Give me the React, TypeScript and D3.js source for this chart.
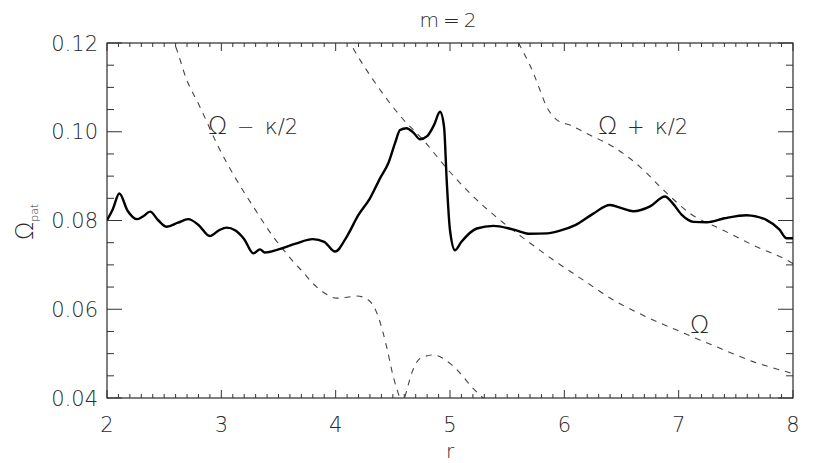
import React from "react";
import * as d3 from "d3";

const title = "m=2";
const xLabel = "r";
const xTicks = [2, 3, 4, 5, 6, 7, 8];
const yTicks = [0.04, 0.06, 0.08, 0.1, 0.12];
const yTickLabels = ["0.04", "0.06", "0.08", "0.10", "0.12"];

const patR = [2.0, 2.05, 2.108, 2.18, 2.265, 2.32, 2.376, 2.45, 2.522, 2.62, 2.711, 2.8, 2.9, 2.98, 3.047, 3.12, 3.2, 3.28, 3.338, 3.38, 3.5, 3.65, 3.8, 3.9, 3.994, 4.1, 4.198, 4.3, 4.388, 4.46, 4.52, 4.563, 4.62, 4.68, 4.738, 4.8, 4.86, 4.913, 4.948, 4.971, 5.0, 5.044, 5.1, 5.234, 5.38, 5.55, 5.7, 5.85, 5.962, 6.1, 6.25, 6.4, 6.5, 6.603, 6.75, 6.88, 6.95, 7.03, 7.128, 7.245, 7.4, 7.595, 7.77, 7.88, 7.945, 8.0];
const patV = [0.0801, 0.0825, 0.0861, 0.0822, 0.0803, 0.081, 0.082, 0.08, 0.0786, 0.0795, 0.0803, 0.079, 0.0765, 0.0778, 0.0784, 0.0778, 0.0758, 0.0726, 0.0735, 0.0728, 0.0735, 0.0748, 0.0758, 0.0752, 0.073, 0.0765, 0.0812, 0.085, 0.0895, 0.0929, 0.0975, 0.1004, 0.1008, 0.0998, 0.0983, 0.099, 0.1015, 0.1045, 0.1011, 0.0891, 0.0778, 0.0733, 0.0752, 0.0782, 0.0788, 0.078, 0.077, 0.0771, 0.0777, 0.079, 0.0815, 0.0835, 0.0828, 0.0821, 0.0832, 0.0854, 0.0838, 0.0812, 0.0797, 0.0796, 0.0805, 0.0812, 0.0801, 0.078, 0.076, 0.076];

const omegaR = [4.1, 4.213, 4.36, 4.563, 4.767, 4.97, 5.204, 5.437, 5.67, 5.904, 6.17, 6.428, 6.7, 6.983, 7.362, 7.65, 7.945, 8.0];
const omegaV = [0.1212, 0.1162, 0.1105, 0.1036, 0.0981, 0.0918, 0.0854, 0.0801, 0.0755, 0.0711, 0.0665, 0.0621, 0.0585, 0.0553, 0.0512, 0.0482, 0.0459, 0.0455];

const plusR = [5.55, 5.6, 5.73, 5.787, 5.846, 5.904, 5.95, 6.05, 6.196, 6.428, 6.662, 6.866, 7.1, 7.39, 7.68, 7.945, 8.0];
const plusV = [0.1225, 0.12, 0.1132, 0.1094, 0.1056, 0.1034, 0.1024, 0.1015, 0.0996, 0.0966, 0.0921, 0.0869, 0.0816, 0.0778, 0.0741, 0.0711, 0.0703];

const minusR = [2.55, 2.586, 2.697, 2.813, 2.974, 3.134, 3.28, 3.455, 3.572, 3.63, 3.717, 3.776, 3.9, 4.009, 4.1, 4.184, 4.286, 4.373, 4.446, 4.504, 4.557, 4.582, 4.606, 4.665, 4.738, 4.855, 5.0, 5.102, 5.19, 5.277, 5.31];
const minusV = [0.1215, 0.12, 0.1117, 0.1056, 0.0966, 0.0891, 0.0831, 0.0763, 0.0725, 0.0707, 0.0683, 0.0665, 0.0637, 0.0625, 0.0627, 0.063, 0.0621, 0.0583, 0.0515, 0.0448, 0.0403, 0.0385, 0.0403, 0.0456, 0.0489, 0.0497, 0.0478, 0.0452, 0.0425, 0.0403, 0.0395];

const W = 822, H = 463;
const L = 107, R = 793, T = 43, B = 398;

export default function App() {
  const x = d3.scaleLinear().domain([2, 8]).range([L, R]);
  const y = d3.scaleLinear().domain([0.04, 0.12]).range([B, T]);
  const line = d3.line<[number, number]>().x(d => x(d[0])).y(d => y(d[1])).curve(d3.curveMonotoneX);
  const zip = (a: number[], b: number[]) => a.map((v, i) => [v, b[i]] as [number, number]);

  const xMinor = d3.range(20, 81).map(v => v / 10);
  const yMinor = d3.range(8, 25).map(v => v * 0.005);
  const textColor = "#2a2a2a";
  const sans = "'DejaVu Sans', sans-serif";
  const fw = 200;

  return (
    <svg width={W} height={H} style={{ position: "absolute", left: 0, top: 0, background: "#fff" }}>
      <defs>
        <clipPath id="plotClip">
          <rect x={L} y={T} width={R - L} height={B - T} />
        </clipPath>
      </defs>
      <rect x={0} y={0} width={W} height={H} fill="#fff" />
      <g clipPath="url(#plotClip)" fill="none">
        <path d={line(zip(minusR, minusV)) || ""} stroke="#444" strokeWidth={1.1} strokeDasharray="6,6" />
        <path d={line(zip(omegaR, omegaV)) || ""} stroke="#444" strokeWidth={1.1} strokeDasharray="6,6" />
        <path d={line(zip(plusR, plusV)) || ""} stroke="#444" strokeWidth={1.1} strokeDasharray="6,6" />
        <path d={line(zip(patR, patV)) || ""} stroke="#000" strokeWidth={2.4} strokeLinejoin="round" />
      </g>
      <rect x={L} y={T} width={R - L} height={B - T} fill="none" stroke="#000" strokeWidth={1} />
      {xMinor.map((v, i) => {
        const major = Math.abs(v - Math.round(v)) < 1e-6;
        const len = major ? 8 : 4;
        const px = x(v);
        return (
          <g key={"xt" + i} stroke="#333" strokeWidth={1}>
            <line x1={px} x2={px} y1={B} y2={B - len} />
            <line x1={px} x2={px} y1={T} y2={T + len} />
          </g>
        );
      })}
      {yMinor.map((v, i) => {
        const major = Math.abs(v / 0.02 - Math.round(v / 0.02)) < 1e-6;
        const len = major ? 15 : 7;
        const py = y(v);
        return (
          <g key={"yt" + i} stroke="#333" strokeWidth={1}>
            <line x1={L} x2={L + len} y1={py} y2={py} />
            <line x1={R} x2={R - len} y1={py} y2={py} />
          </g>
        );
      })}
      <g fontFamily={sans} fontWeight={fw} fill={textColor}>
        {xTicks.map(v => (
          <text key={"xl" + v} x={x(v)} y={432} textAnchor="middle" fontSize={21}>{v}</text>
        ))}
        {yTicks.map((v, i) => (
          <text key={"yl" + v} x={98} y={y(v) + 7.5} textAnchor="end" fontSize={21}>{yTickLabels[i]}</text>
        ))}
        <text x={450} y={27} textAnchor="middle" fontSize={20} letterSpacing={4}>{title}</text>
        <text x={450} y={458} textAnchor="middle" fontSize={20}>{xLabel}</text>
        <text transform="translate(33,240) rotate(-90)" fontSize={24}>
          Ω<tspan fontSize={11} dy={5}>pat</tspan>
        </text>
        <text x={208} y={134} fontSize={21}>
          <tspan fontSize={25}>Ω</tspan>
          <tspan dx={10}>−</tspan>
          <tspan dx={10} fontSize={22}>κ</tspan>
          <tspan>/2</tspan>
        </text>
        <text x={598} y={134} fontSize={21}>
          <tspan fontSize={25}>Ω</tspan>
          <tspan dx={10}>+</tspan>
          <tspan dx={10} fontSize={22}>κ</tspan>
          <tspan>/2</tspan>
        </text>
        <text x={690} y={333} fontSize={25}>Ω</text>
      </g>
    </svg>
  );
}
